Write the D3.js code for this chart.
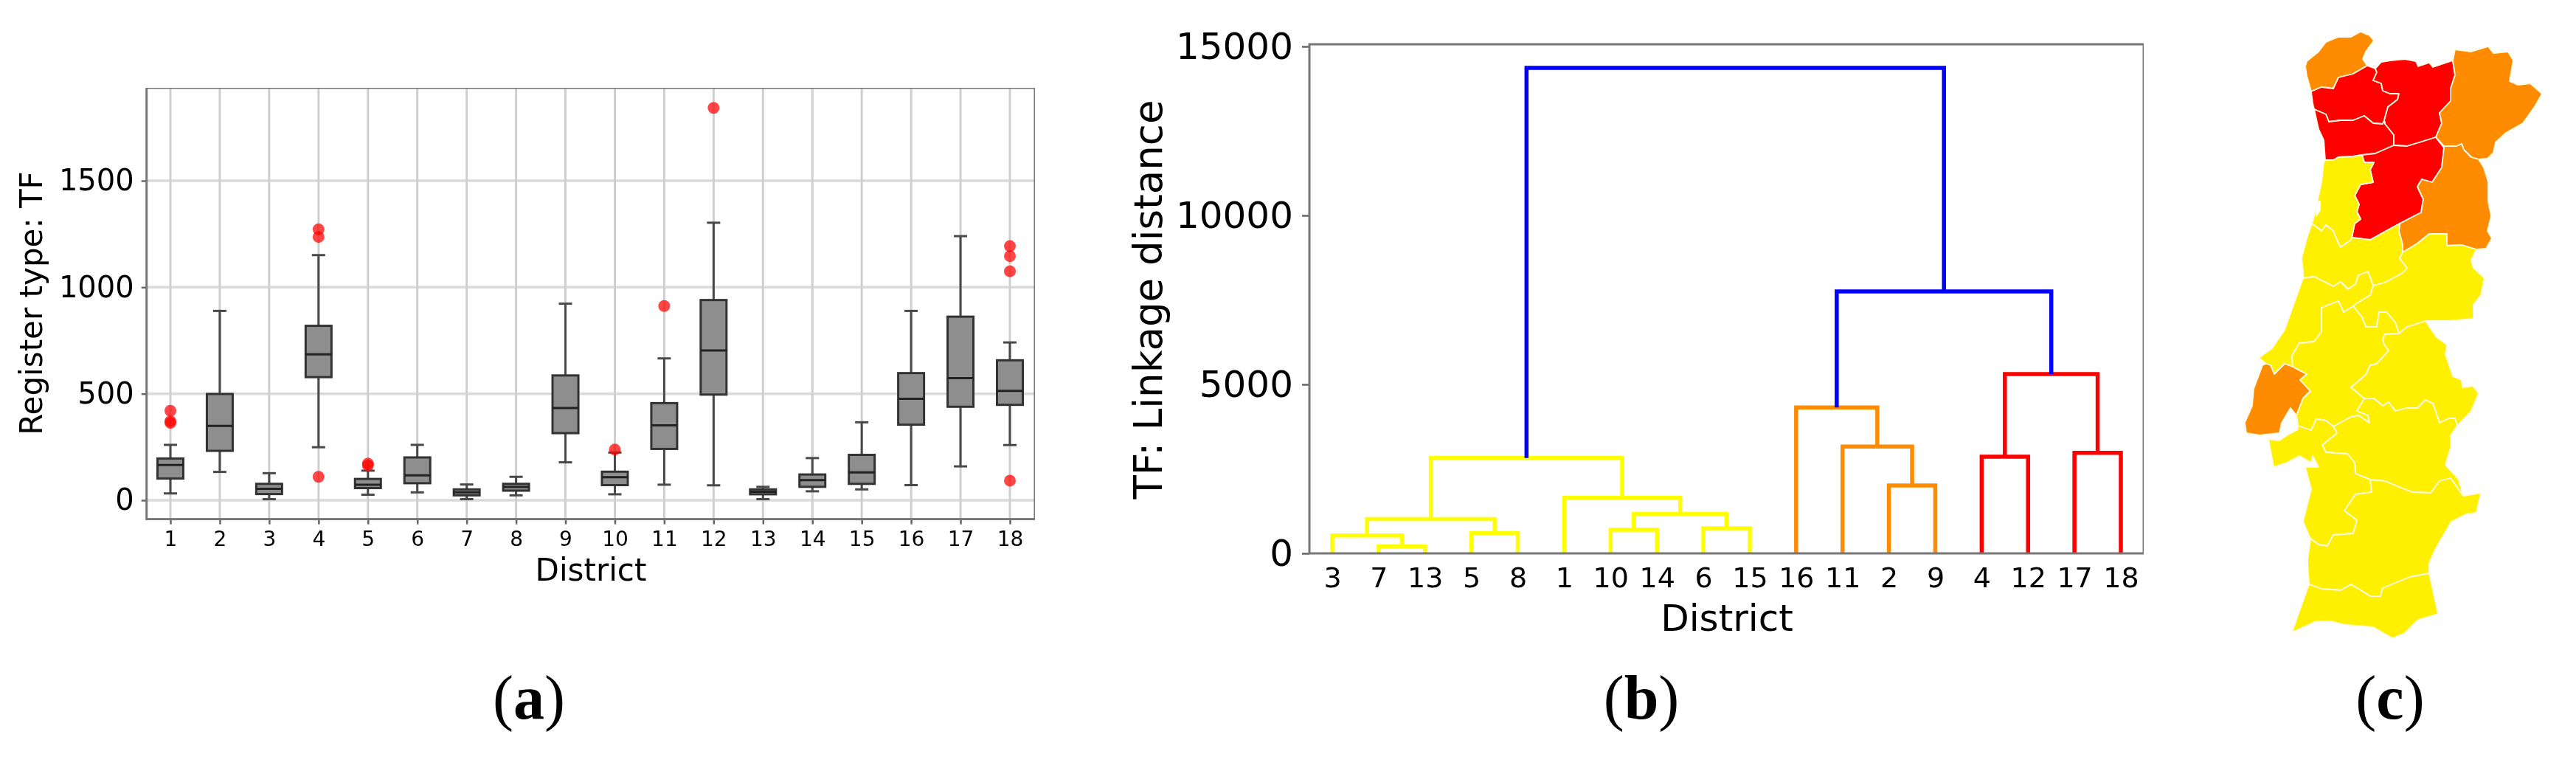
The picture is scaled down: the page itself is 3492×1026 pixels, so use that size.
<!DOCTYPE html>
<html>
<head>
<meta charset="utf-8">
<script src="https://d3js.org/d3.v7.min.js"></script>
<style>
	html, body { margin: 0; background: #fff; }
	svg { display: block; }
	text { font-family: "DejaVu Sans", sans-serif; }
</style>
</head>
<body>
<div id="chart"></div>
<script>
const WIDTH = 3492, HEIGHT = 1026

// panel (a) boxplots
const districts = ['1','2','3','4','5','6','7','8','9','10','11','12','13','14','15','16','17','18']
const whiskerLow = [32,133,5,249,26,37,5,23,178,28,73,70,5,42,51,71,159,259]
const q1 = [102,232,29,578,57,80,23,45,315,71,241,496,28,63,77,355,439,448]
const median = [165,349,54,685,73,117,37,62,433,108,352,703,40,94,131,476,573,514]
const q3 = [196,499,77,819,100,201,51,77,586,134,456,940,51,121,213,597,862,657]
const whiskerHigh = [260,889,127,1151,139,260,74,110,923,224,666,1303,63,198,366,889,1240,741]
const outliers = [[420,371,363],[],[],[1272,1236,110],[172,163],[],[],[],[],[238],[912],[1842],[],[],[],[],[],[1193,1146,1075,92]]
const boxTicks = [0,500,1000,1500]

// panel (b) dendrogram
const leafOrder = ['3','7','13','5','8','1','10','14','6','15','16','11','2','9','4','12','17','18']
const mergeIds = ['m1','m2','m3','m4','m5','m6','m7','m8','m9','m10','m11','m12','m13','m14','m15','m16','m17']
const mergeLeft = ['7','3','5','m2','10','6','m5','1','m4','2','11','16','4','17','m13','m12','m9']
const mergeRight = ['13','m1','8','m3','14','15','m6','m7','m8','9','m10','m11','12','18','m14','m15','m16']
const mergeHeight = [200,527,600,1016,700,740,1167,1643,2823,2007,3160,4316,2860,2973,5307,7753,14365]
const mergeColour = ['y','y','y','y','y','y','y','y','y','o','o','o','r','r','r','b','b']
const linkageTicks = [0,5000,10000,15000]

// panel (c) map, district borders as shared arcs, in map units
const viCoast = [[133,124],[127,103],[125,90],[127,83],[143,70],[153,57],[170,50],[187,50],[200,43],[212,48],[218,55],[207,70],[203,80],[209,89]]
const viBr = [[209,89],[190,100],[170,105],[163,120],[147,118],[133,124]]
const brNorth = [[209,89],[220,93]]
const brVr = [[220,93],[222,98],[217,109],[228,113],[230,123],[240,127],[252,127],[250,135],[237,145],[232,163]]
const brPo = [[137,148],[153,155],[157,165],[173,163],[190,163],[205,157],[217,167],[230,168],[232,163]]
const brCoast = [[133,124],[135,140],[137,148]]
const vrNorth = [[220,93],[228,84],[240,82],[260,80],[275,83],[278,90],[293,85],[298,91],[325,82]]
const vrBg = [[325,82],[328,102],[322,120],[322,137],[307,153],[310,167],[302,186]]
const poVr = [[232,163],[233,168],[245,183],[245,197]]
const vrVs = [[245,197],[263,198],[283,192],[302,186]]
const poCoast = [[137,148],[143,175],[150,190],[152,217]]
const poAv = [[152,217],[163,217],[170,213],[190,212],[202,210]]
const poVs = [[202,210],[220,208],[245,197]]
const bgNorth = [[325,82],[328,67],[350,70],[373,63],[380,72],[400,70],[407,82],[402,110],[413,115],[430,113],[446,127],[437,143],[420,167],[397,180],[383,193],[380,207],[372,215],[360,216]]
const bgGu = [[360,216],[350,213],[340,203],[337,195],[330,198],[313,198],[302,186]]
const vsGu = [[302,186],[313,200],[310,227],[297,247],[283,243],[277,253],[285,270],[282,288],[253,303]]
const vsCo = [[253,303],[240,310],[213,325],[188,322]]
const vsAv = [[188,322],[192,303],[200,297],[195,287],[198,277],[192,265],[200,250],[217,247],[213,230],[218,220],[205,220],[202,210]]
const guEast = [[360,216],[367,227],[373,247],[373,273],[377,293],[372,313],[378,323],[370,337],[357,338]]
const guCb = [[357,338],[337,332],[317,333],[317,317],[293,317],[277,330],[257,342]]
const guCo = [[257,342],[257,332],[252,313],[253,303]]
const avCoast = [[152,217],[150,220],[147,247],[142,270],[137,293],[134,303]]
const avCo = [[134,303],[147,313],[153,305],[163,313],[170,330],[173,335],[187,325],[188,322]]
const coCoast = [[134,303],[128,320],[120,350],[122,367],[122,377]]
const coLe = [[122,377],[137,375],[153,383],[163,388],[173,382],[183,392],[193,385],[197,373],[210,368],[217,387]]
const coCb = [[217,387],[233,383],[257,370],[263,363],[253,350],[257,342]]
const cbEast = [[357,338],[350,353],[353,363],[368,377],[363,400],[353,413],[353,432],[320,435],[288,435]]
const cbPt = [[288,435],[273,440],[263,443],[252,452]]
const leCb = [[217,387],[213,400],[193,412],[190,415]]
const saCb = [[190,415],[202,430],[207,443],[222,443],[225,423],[235,423],[247,437],[252,452]]
const leCoast = [[122,377],[97,447],[80,472],[62,485],[72,493]]
const leLi = [[72,493],[78,495],[83,507],[97,493],[108,497]]
const leSa = [[190,415],[177,423],[170,408],[147,417],[147,450],[137,463],[117,465],[107,482],[108,497]]
const liSa = [[108,497],[127,507],[118,515],[132,530],[122,540],[113,563]]
const liCoast = [[113,563],[105,553],[93,573],[90,587],[63,590],[45,587],[43,573],[53,550],[55,527],[67,495],[72,493]]
const saSe = [[113,563],[115,577],[133,583],[140,568],[153,570],[163,578]]
const saEv = [[163,578],[187,565],[197,563],[212,573],[210,563],[195,557],[205,540]]
const ptSa = [[205,540],[187,525],[207,508],[213,495],[222,493],[238,475],[232,467],[230,460],[233,453],[252,452]]
const ptEv = [[205,540],[218,540],[230,550],[238,545],[247,557],[263,553],[277,553],[288,542],[298,547],[307,573],[320,567],[328,567],[331,577]]
const ptEast = [[288,435],[303,457],[317,467],[315,480],[325,510],[337,515],[338,525],[352,523],[360,533],[350,557],[331,577]]
const evEast = [[331,577],[322,590],[322,607],[315,630],[333,650],[339,672]]
const evBe = [[339,672],[322,648],[307,652],[295,668],[270,667],[257,662],[233,652],[213,650]]
const evSe = [[213,650],[193,642],[192,627],[182,615],[153,613],[148,603],[168,587],[163,578]]
const seBe = [[213,650],[215,667],[193,670],[178,692],[195,705],[190,723],[163,725],[155,740],[143,738],[132,730]]
const seCoast = [[132,730],[122,707],[133,663],[125,633],[143,633],[135,618],[133,627],[117,618],[100,627],[82,633],[75,595],[90,597],[100,590],[115,582],[113,563]]
const beCoast = [[132,730],[128,760],[130,792]]
const beFa = [[130,792],[147,798],[173,800],[187,792],[213,808],[227,808],[230,797],[267,782],[293,777]]
const beEast = [[293,777],[293,763],[302,743],[323,707],[343,697],[357,695],[363,668],[339,672]]
const faEast = [[293,777],[305,832]]
const faCoast = [[305,832],[278,840],[260,858],[243,865],[217,850],[180,847],[160,842],[140,842],[107,857],[120,820],[130,792]]
const lagoon = [[140,273],[146,272],[146,285],[139,295]]

const rev = a => a.slice().reverse()
const districtRings = [
	{ level: 'o', ring: [viCoast, viBr] },
	{ level: 'r', ring: [brCoast, brPo, rev(brVr), rev(brNorth), viBr] },
	{ level: 'r', ring: [vrNorth, vrBg, rev(vrVs), rev(poVr), rev(brVr)] },
	{ level: 'r', ring: [poCoast, poAv, poVs, rev(poVr), rev(brPo)] },
	{ level: 'o', ring: [bgNorth, bgGu, rev(vrBg)] },
	{ level: 'r', ring: [vsGu, vsCo, vsAv, poVs, vrVs] },
	{ level: 'o', ring: [rev(bgGu), guEast, guCb, guCo, rev(vsGu)] },
	{ level: 'y', ring: [avCoast, avCo, vsAv, rev(poAv)] },
	{ level: 'y', ring: [coCoast, coLe, coCb, guCo, vsCo, rev(avCo)] },
	{ level: 'y', ring: [cbEast, cbPt, rev(saCb), rev(leCb), coCb, rev(guCb)] },
	{ level: 'y', ring: [leCoast, leLi, rev(leSa), rev(leCb), rev(coLe)] },
	{ level: 'o', ring: [leLi, liSa, liCoast] },
	{ level: 'y', ring: [leSa, liSa, saSe, saEv, ptSa, rev(saCb)] },
	{ level: 'y', ring: [rev(ptSa), ptEv, rev(ptEast), cbPt] },
	{ level: 'y', ring: [saEv, ptEv, evEast, evBe, evSe] },
	{ level: 'y', ring: [saSe, rev(evSe), seBe, seCoast] },
	{ level: 'y', ring: [evBe, seBe, beCoast, beFa, beEast] },
	{ level: 'y', ring: [beFa, faEast, faCoast] }
]

const panelLabels = ['a','b','c']

const BOX = { TOP: 119, BOTTOM: 703.6, LEFT: 198.7, RIGHT: 1403 }
const DEN = { TOP: 60, BOTTOM: 750, LEFT: 1775, RIGHT: 2906 }
const mapFill = { y: '#fff000', o: '#ff8c00', r: '#ff0000' }
const linkStroke = { y: '#ffff00', o: '#ff8c00', r: '#ff0000', b: '#0000ff' }
const labelX = { a: 717, b: 2225, c: 3240 }

const svg = d3.select('#chart').append('svg')
	.attr('width', WIDTH)
	.attr('height', HEIGHT)

//the source panels are soft raster plots
svg.append('defs').append('filter')
	.attr('id', 'soft')
	.attr('x', 0).attr('y', 0).attr('width', 1).attr('height', 1)
	.append('feGaussianBlur')
	.attr('stdDeviation', 0.7)

/* ---------- panel a ---------- */
const ga = svg.append('g').attr('filter', 'url(#soft)')

const xBox = d3.scalePoint().domain(districts).range([231, 1369])
const yBox = d3.scaleLinear().domain([0, 1500]).range([678, 245])

ga.append('g').selectAll('line').data(boxTicks).join('line')
	.attr('x1', BOX.LEFT).attr('x2', BOX.RIGHT)
	.attr('y1', d => yBox(d)).attr('y2', d => yBox(d))
	.attr('stroke', '#dadada').attr('stroke-width', 3.5)

ga.append('g').selectAll('line').data(districts).join('line')
	.attr('x1', d => xBox(d)).attr('x2', d => xBox(d))
	.attr('y1', BOX.TOP).attr('y2', BOX.BOTTOM)
	.attr('stroke', '#cfcfcf').attr('stroke-width', 3)

const boxes = ga.append('g').selectAll('g').data(districts).join('g')
	.attr('transform', d => `translate(${xBox(d)},0)`)

boxes.append('line')
	.attr('y1', (d, i) => yBox(whiskerLow[i]))
	.attr('y2', (d, i) => yBox(whiskerHigh[i]))
	.attr('stroke', '#4a4a4a').attr('stroke-width', 3)

boxes.selectAll('.cap').data((d, i) => [whiskerLow[i], whiskerHigh[i]]).join('line')
	.attr('class', 'cap')
	.attr('x1', -9).attr('x2', 9)
	.attr('y1', d => yBox(d)).attr('y2', d => yBox(d))
	.attr('stroke', '#4a4a4a').attr('stroke-width', 3)

boxes.append('rect')
	.attr('x', -17.5).attr('width', 35)
	.attr('y', (d, i) => yBox(q3[i]))
	.attr('height', (d, i) => yBox(q1[i]) - yBox(q3[i]))
	.attr('fill', '#8e8e8e')
	.attr('stroke', '#333').attr('stroke-width', 3)

boxes.append('line')
	.attr('x1', -17.5).attr('x2', 17.5)
	.attr('y1', (d, i) => yBox(median[i])).attr('y2', (d, i) => yBox(median[i]))
	.attr('stroke', '#222').attr('stroke-width', 3)

boxes.selectAll('circle').data((d, i) => outliers[i]).join('circle')
	.attr('cy', d => yBox(d))
	.attr('r', 8)
	.attr('fill', '#ff0000').attr('fill-opacity', 0.72)

const xBoxAxis = ga.append('g').attr('transform', `translate(0,${BOX.BOTTOM})`)
	.call(d3.axisBottom(xBox).tickSize(7).tickPadding(10))
xBoxAxis.selectAll('text').attr('font-size', 28).attr('fill', '#000')

const yBoxAxis = ga.append('g').attr('transform', `translate(${BOX.LEFT},0)`)
	.call(d3.axisLeft(yBox).tickValues(boxTicks).tickFormat(d3.format('d')).tickSize(7).tickPadding(10))
yBoxAxis.selectAll('text').attr('font-size', 40).attr('fill', '#000')

ga.selectAll('.domain').remove()
ga.selectAll('.tick line').attr('stroke', '#666').attr('stroke-width', 2.5)

ga.append('rect')
	.attr('x', BOX.LEFT).attr('y', BOX.TOP)
	.attr('width', BOX.RIGHT - BOX.LEFT).attr('height', BOX.BOTTOM - BOX.TOP)
	.attr('fill', 'none').attr('stroke', '#777').attr('stroke-width', 3)

ga.append('text')
	.attr('x', 801).attr('y', 787)
	.attr('text-anchor', 'middle').attr('font-size', 42).attr('fill', '#000')
	.text('District')

ga.append('text')
	.attr('transform', 'translate(57,411) rotate(-90)')
	.attr('text-anchor', 'middle').attr('font-size', 42).attr('fill', '#000')
	.text('Register type: TF')

/* ---------- panel b ---------- */
const gb = svg.append('g').attr('filter', 'url(#soft)')

const xDen = d3.scalePoint().domain(leafOrder).range([1806, 2875])
const yDen = d3.scaleLinear().domain([0, 15000]).range([DEN.BOTTOM, 63])

//walk the merges: a parent sits midway between its two children
const nodeX = new Map(leafOrder.map(d => [d, xDen(d)]))
const nodeY = new Map(leafOrder.map(d => [d, 0]))
const links = mergeIds.map((id, i) => {
	const l = mergeLeft[i], r = mergeRight[i]
	nodeX.set(id, (nodeX.get(l) + nodeX.get(r)) / 2)
	nodeY.set(id, mergeHeight[i])
	return { left: l, right: r, h: mergeHeight[i], colour: mergeColour[i] }
})

gb.append('g').selectAll('path').data(links).join('path')
	.attr('d', d => d3.line()([
		[nodeX.get(d.left), yDen(nodeY.get(d.left))],
		[nodeX.get(d.left), yDen(d.h)],
		[nodeX.get(d.right), yDen(d.h)],
		[nodeX.get(d.right), yDen(nodeY.get(d.right))]
	]))
	.attr('fill', 'none')
	.attr('stroke', d => linkStroke[d.colour])
	.attr('stroke-width', 5.5)

const xDenAxis = gb.append('g').attr('transform', `translate(0,${DEN.BOTTOM})`)
	.call(d3.axisBottom(xDen).tickSize(0).tickPadding(19))
xDenAxis.selectAll('text').attr('font-size', 38).attr('fill', '#000')

const yDenAxis = gb.append('g').attr('transform', `translate(${DEN.LEFT},0)`)
	.call(d3.axisLeft(yDen).tickValues(linkageTicks).tickFormat(d3.format('d')).tickSize(10).tickPadding(12))
yDenAxis.selectAll('text').attr('font-size', 50).attr('fill', '#000')

gb.selectAll('.domain').remove()
gb.selectAll('.tick line').attr('stroke', '#666').attr('stroke-width', 2.5)

gb.append('rect')
	.attr('x', DEN.LEFT).attr('y', DEN.TOP)
	.attr('width', DEN.RIGHT - DEN.LEFT).attr('height', DEN.BOTTOM - DEN.TOP)
	.attr('fill', 'none').attr('stroke', '#777').attr('stroke-width', 3)

gb.append('text')
	.attr('x', 2341).attr('y', 855)
	.attr('text-anchor', 'middle').attr('font-size', 50).attr('fill', '#000')
	.text('District')

gb.append('text')
	.attr('transform', 'translate(1575,406) rotate(-90)')
	.attr('text-anchor', 'middle').attr('font-size', 53).attr('fill', '#000')
	.text('TF: Linkage distance')

/* ---------- panel c ---------- */
const mapX = d3.scaleLinear().domain([0, 492]).range([3000, 3492])
const mapY = d3.scaleLinear().domain([0, 1026]).range([0, 1026])
const mapLine = d3.line().x(d => mapX(d[0])).y(d => mapY(d[1])).curve(d3.curveLinearClosed)

svg.append('g').selectAll('path').data(districtRings).join('path')
	.attr('d', d => mapLine(d.ring.flat()))
	.attr('fill', d => mapFill[d.level])
	.attr('stroke', '#fffbe6').attr('stroke-width', 1.8)
	.attr('stroke-linejoin', 'round')

svg.append('path')
	.attr('d', mapLine(lagoon))
	.attr('fill', '#fff')

/* ---------- (a) (b) (c) ---------- */
const labels = svg.append('g').selectAll('text').data(panelLabels).join('text')
	.attr('x', d => labelX[d]).attr('y', 974)
	.attr('text-anchor', 'middle')
	.attr('font-size', 84)
	.style('font-family', '"Liberation Serif", serif')
labels.append('tspan').text('(')
labels.append('tspan').attr('font-weight', 'bold').text(d => d)
labels.append('tspan').text(')')
</script>
</body>
</html>
